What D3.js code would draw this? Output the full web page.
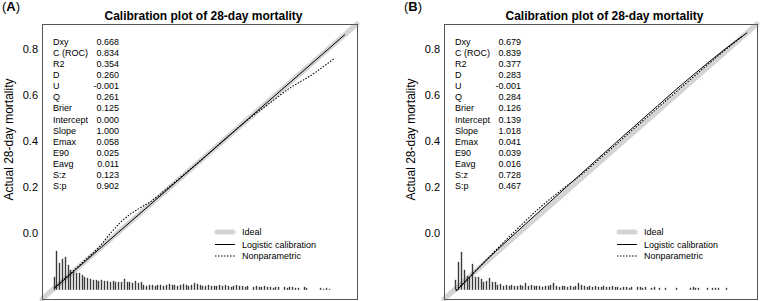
<!DOCTYPE html>
<html>
<head>
<meta charset="utf-8">
<script src="https://cdn.jsdelivr.net/npm/d3@7"></script>
<style>
  body { margin: 0; background: #fff; }
  svg { display: block; font-family: "Liberation Sans", Arial, sans-serif; }
  .box { fill: none; stroke: #555; stroke-width: 1; }
  .ideal { fill: none; stroke: #d4d4d4; stroke-width: 5; stroke-linecap: round; }
  .logistic { fill: none; stroke: #000; stroke-width: 1; }
  .nonpar { fill: none; stroke: #000; stroke-width: 1.1; stroke-dasharray: 1.5,1.5; }
  .spike { stroke: #3a3a3a; stroke-width: 1.4; }
  .axis text { font-size: 11px; fill: #000; }
  .stat, .legend-text { font-size: 9px; fill: #000; }
  .title { font-size: 12px; font-weight: bold; }
</style>
</head>
<body>
<script>
var yTicks = [0, 0.2, 0.4, 0.6, 0.8];
var statNames = ["Dxy", "C (ROC)", "R2", "D", "U", "Q", "Brier", "Intercept", "Slope", "Emax", "E90", "Eavg", "S:z", "S:p"];
var statsA = ["0.668", "0.834", "0.354", "0.260", "-0.001", "0.261", "0.125", "0.000", "1.000", "0.058", "0.025", "0.011", "0.123", "0.902"];
var statsB = ["0.679", "0.839", "0.377", "0.283", "-0.001", "0.284", "0.126", "0.139", "1.018", "0.041", "0.039", "0.016", "0.728", "0.467"];
var legendLabels = ["Ideal", "Logistic calibration", "Nonparametric"];

// [predicted, actual]
var logisticA = [[-0.240, -0.240], [0.864, 0.864]];
var nonparA = [[-0.240, -0.240], [-0.134, -0.129], [-0.069, -0.059], [-0.031, -0.006], [0.007, 0.042],
    [0.045, 0.079], [0.083, 0.107], [0.121, 0.133], [0.198, 0.203], [0.312, 0.312], [0.426, 0.426],
    [0.502, 0.500], [0.578, 0.565], [0.655, 0.631], [0.731, 0.683], [0.826, 0.762]];
var logisticB = [[-0.244, -0.257], [-0.152, -0.148], [-0.033, -0.020], [0.097, 0.114], [0.289, 0.311],
    [0.481, 0.505], [0.672, 0.694], [0.787, 0.800], [0.872, 0.872]];
var nonparB = [[-0.244, -0.253], [-0.152, -0.148], [-0.075, -0.058], [0.001, 0.027], [0.078, 0.109],
    [0.155, 0.181], [0.231, 0.248], [0.346, 0.361], [0.481, 0.496], [0.672, 0.685], [0.787, 0.796],
    [0.856, 0.858]];

// spike histogram of predicted probabilities (relative heights)
var spikesA = [13, 39, 27, 31, 33, 25, 20, 18, 17, 17, 15, 13,
    12, 11, 10, 10, 9, 10, 9, 9, 8, 9, 8, 8, 8, 11,
    8, 8, 7, 9, 7, 8,
    5, 4, 5, 5, 4, 5, 5, 4, 5, 6, 5, 5, 4, 5, 6, 5, 4, 5, 7, 6, 5, 4, 4, 5, 4, 4, 4, 5, 4, 5, 4, 3, 4, 5, 4,
    4, 3, 4, 0, 3, 4, 3, 3, 4, 3, 3, 2, 3, 3, 0, 3, 2, 3, 3, 2, 2, 0, 3, 2, 0, 0,
    0, 0, 2, 1, 2, 1, 0];
var spikesB = [10, 28, 38, 20, 14, 12, 26, 13, 13, 11, 8, 9, 12, 8, 8, 5,
    6, 4, 5, 4, 5, 4, 4, 5, 4, 7, 4, 5, 4, 4, 4, 3, 4, 4, 5, 7, 4, 3, 4, 4, 3, 4, 3, 4, 7, 5, 4, 3, 4, 3, 4, 3, 3, 4, 3, 3, 4, 3, 3, 2, 3,
    3, 2, 3, 0, 3, 3, 2, 3, 0, 2, 3, 0, 2, 0, 2, 0, 0, 0, 2, 0, 0, 0, 0, 2, 3, 2, 2, 0, 0, 2, 0, 2, 2, 2, 0, 0, 2, 0, 0];
var binStart = -0.246;
var binWidth = 0.0107;
var spikeBase = -0.25;

var domain = [-0.29, 0.91];
var plotTop = 24, plotBottom = 299;

var svg = d3.select("body").append("svg")
    .attr("width", 761)
    .attr("height", 301);

function drawPanel(letter, left, right, stats, logistic, nonpar, spikes) {
    var xScale = d3.scaleLinear().domain(domain).range([left, right]);
    var yScale = d3.scaleLinear().domain(domain).range([plotBottom, plotTop]);
    var hScale = d3.scaleLinear().domain([0, 39]).range([0, 39]);
    var g = svg.append("g");

    g.append("line")
        .attr("class", "ideal")
        .attr("x1", xScale(domain[0])).attr("y1", yScale(domain[0]))
        .attr("x2", xScale(domain[1])).attr("y2", yScale(domain[1]));

    var y0 = yScale(spikeBase);
    g.selectAll(".spike")
        .data(spikes.map(function(d, i) { return {i: i, n: d}; }).filter(function(d) { return d.n > 0; }))
        .enter()
        .append("line")
        .attr("class", "spike")
        .attr("x1", function(d) { return Math.round(xScale(binStart + d.i * binWidth)) + 0.5; })
        .attr("x2", function(d) { return Math.round(xScale(binStart + d.i * binWidth)) + 0.5; })
        .attr("y1", y0)
        .attr("y2", function(d) { return y0 - hScale(d.n); });

    var line = d3.line()
        .x(function(d) { return xScale(d[0]); })
        .y(function(d) { return yScale(d[1]); })
        .curve(d3.curveMonotoneX);

    g.append("path").attr("class", "logistic").attr("d", line(logistic));
    g.append("path").attr("class", "nonpar").attr("d", line(nonpar));

    g.append("rect")
        .attr("class", "box")
        .attr("x", left + 0.5).attr("y", plotTop + 0.5)
        .attr("width", right - left).attr("height", plotBottom - plotTop);

    g.append("g")
        .attr("class", "axis")
        .attr("transform", "translate(" + left + ",0)")
        .call(d3.axisLeft(yScale).tickValues(yTicks).tickSize(0).tickPadding(4).tickFormat(d3.format(".1f")))
        .call(function(a) { a.select(".domain").remove(); a.attr("font-family", null).attr("font-size", null); });

    g.append("text")
        .attr("class", "title")
        .attr("x", (left + right) / 2 + 4)
        .attr("y", 20)
        .attr("text-anchor", "middle")
        .text("Calibration plot of 28-day mortality");

    g.append("text")
        .attr("transform", "translate(" + (left - 29) + "," + 139.5 + ") rotate(-90)")
        .attr("text-anchor", "middle")
        .style("font-size", "12px")
        .text("Actual 28-day mortality");

    var lab = g.append("text")
        .attr("x", left - 40)
        .attr("y", 11)
        .style("font-size", "13px");
    lab.append("tspan").text("(");
    lab.append("tspan").style("font-weight", "bold").text(letter);
    lab.append("tspan").text(")");

    statNames.forEach(function(name, i) {
        var y = plotTop + 20.5 + i * 11.15;
        g.append("text").attr("class", "stat").attr("x", left + 11).attr("y", y).text(name);
        g.append("text").attr("class", "stat").attr("x", left + 77).attr("y", y)
            .attr("text-anchor", "end").text(stats[i]);
    });

    var lx = left + 173;
    var rows = [232, 244.5, 256];
    g.append("line").attr("class", "ideal")
        .attr("x1", lx + 2).attr("x2", lx + 18).attr("y1", rows[0]).attr("y2", rows[0]);
    g.append("line").attr("class", "logistic")
        .attr("x1", lx).attr("x2", lx + 20).attr("y1", rows[1]).attr("y2", rows[1]);
    g.append("line").attr("class", "nonpar")
        .attr("x1", lx).attr("x2", lx + 20).attr("y1", rows[2]).attr("y2", rows[2]);
    legendLabels.forEach(function(t, i) {
        g.append("text").attr("class", "legend-text")
            .attr("x", lx + 27).attr("y", rows[i]).attr("dy", "0.35em").text(t);
    });
}

drawPanel("A", 42, 357, statsA, logisticA, nonparA, spikesA);
drawPanel("B", 444, 757, statsB, logisticB, nonparB, spikesB);
</script>
</body>
</html>
